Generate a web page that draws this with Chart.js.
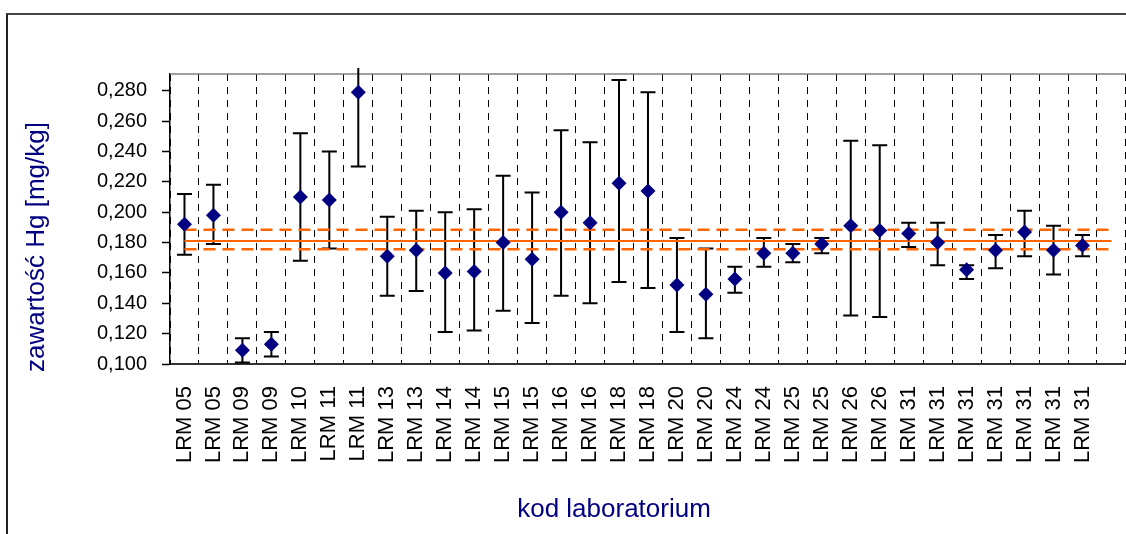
<!DOCTYPE html>
<html>
<head>
<meta charset="utf-8">
<script src="https://cdn.jsdelivr.net/npm/chart.js@4.4.1/dist/chart.umd.min.js"></script>
<style>
  html, body { margin: 0; padding: 0; background: #fff; overflow: hidden; }
  #wrap { position: relative; width: 1126px; height: 534px; overflow: hidden; }
  #frame { position: absolute; left: 6px; top: 13px; width: 1300px; height: 700px;
           border-left: 2px solid #222; border-top: 2px solid #444; }
  #chart { position: absolute; left: 0; top: 0; }
</style>
</head>
<body>
<div id="wrap">
  <div id="frame"></div>
  <canvas id="chart" width="1160" height="534"></canvas>
</div>
<script>
// lab codes (last slot is an empty category, as in the original sheet)
const LABELS = [
  "LRM 05", "LRM 05", "LRM 09", "LRM 09", "LRM 10", "LRM 11", "LRM 11",
  "LRM 13", "LRM 13", "LRM 14", "LRM 14", "LRM 15", "LRM 15", "LRM 16",
  "LRM 16", "LRM 18", "LRM 18", "LRM 20", "LRM 20", "LRM 24", "LRM 24",
  "LRM 25", "LRM 25", "LRM 26", "LRM 26", "LRM 31", "LRM 31", "LRM 31",
  "LRM 31", "LRM 31", "LRM 31", "LRM 31", ""
];

// Hg content [mg/kg]
const VALUES = [
  0.192, 0.198, 0.109, 0.113, 0.210, 0.208, 0.279, 0.171, 0.175, 0.160, 0.161,
  0.180, 0.169, 0.200, 0.193, 0.219, 0.214, 0.152, 0.146, 0.156, 0.173, 0.173,
  0.179, 0.191, 0.188, 0.186, 0.180, 0.162, 0.175, 0.187, 0.175, 0.178
];
const UPPER = [
  0.212, 0.218, 0.117, 0.121, 0.252, 0.240, 0.327, 0.197, 0.201, 0.200, 0.202,
  0.224, 0.213, 0.254, 0.246, 0.287, 0.279, 0.183, 0.176, 0.164, 0.183, 0.179,
  0.183, 0.247, 0.244, 0.193, 0.193, 0.165, 0.185, 0.201, 0.191, 0.185
];
const LOWER = [
  0.172, 0.179, 0.101, 0.105, 0.168, 0.176, 0.230, 0.145, 0.148, 0.121, 0.122,
  0.135, 0.127, 0.145, 0.140, 0.154, 0.150, 0.121, 0.117, 0.147, 0.164, 0.167,
  0.173, 0.132, 0.131, 0.177, 0.165, 0.156, 0.163, 0.171, 0.159, 0.171
];

// reference value and its uncertainty band
const REF_VALUE = 0.181;
const REF_HIGH = 0.1885;
const REF_LOW = 0.1755;

const Y_MIN = 0.100;
const Y_MAX = 0.291;
const Y_TICKS = [0.100, 0.120, 0.140, 0.160, 0.180, 0.200, 0.220, 0.240, 0.260, 0.280];

const Y_TITLE = "zawartość Hg [mg/kg]";
const X_TITLE = "kod laboratorium";

const NAVY = "#000080";
const ORANGE = "#ff6600";
const FONT = "'Liberation Sans', Arial, sans-serif";

function refLine(value) {
  // from the first category to the last (empty) one
  return [
    { x: LABELS[0], y: value },
    { x: LABELS[LABELS.length - 1], y: value },
  ];
}

const plotFrame = {
  id: "plotFrame",
  beforeDatasetsDraw(chart) {
    const { ctx, chartArea } = chart;
    ctx.save();
    ctx.strokeStyle = "#808080";
    ctx.lineWidth = 1.5;
    ctx.beginPath();
    ctx.moveTo(chartArea.left, chartArea.top);
    ctx.lineTo(chartArea.right, chartArea.top);
    ctx.stroke();
    ctx.restore();
  },
};

const errorBars = {
  id: "errorBars",
  beforeDatasetsDraw(chart) {
    const { ctx, chartArea, scales } = chart;
    const x = scales.x, y = scales.y;
    ctx.save();
    ctx.beginPath();
    ctx.rect(chartArea.left, chartArea.top - 6, chartArea.width, chartArea.height + 6);
    ctx.clip();
    ctx.strokeStyle = "#000";
    ctx.lineWidth = 2;
    const cap = 7.5;
    VALUES.forEach((v, i) => {
      const px = x.getPixelForValue(i);
      const top = y.getPixelForValue(UPPER[i]);
      const bot = y.getPixelForValue(LOWER[i]);
      ctx.beginPath();
      ctx.moveTo(px, top);
      ctx.lineTo(px, bot);
      ctx.moveTo(px - cap, top);
      ctx.lineTo(px + cap, top);
      ctx.moveTo(px - cap, bot);
      ctx.lineTo(px + cap, bot);
      ctx.stroke();
    });
    ctx.restore();
  },
};

const axisTitles = {
  id: "axisTitles",
  afterDraw(chart) {
    const { ctx, chartArea } = chart;
    ctx.save();
    ctx.fillStyle = NAVY;
    ctx.font = "26px " + FONT;
    ctx.textAlign = "center";
    ctx.textBaseline = "middle";
    ctx.translate(37, chartArea.top + 173);
    ctx.rotate(-Math.PI / 2);
    ctx.fillText(Y_TITLE, 0, 0);
    ctx.restore();

    ctx.save();
    ctx.fillStyle = NAVY;
    ctx.font = "26px " + FONT;
    ctx.textAlign = "center";
    ctx.textBaseline = "middle";
    ctx.fillText(X_TITLE, chartArea.left + 444, chartArea.bottom + 146);
    ctx.restore();
  },
};

new Chart(document.getElementById("chart"), {
  type: "line",
  data: {
    labels: LABELS,
    datasets: [
      {
        label: "wynik",
        data: VALUES,
        showLine: false,
        pointStyle: "rectRot",
        pointRadius: 7.5,
        pointBackgroundColor: NAVY,
        pointBorderColor: NAVY,
        pointBorderWidth: 0,
        order: 0,
      },
      {
        label: "wartość odniesienia",
        data: refLine(REF_VALUE),
        borderColor: ORANGE,
        borderWidth: 2,
        pointRadius: 0,
        order: 1,
      },
      {
        label: "górna granica",
        data: refLine(REF_HIGH),
        borderColor: ORANGE,
        borderWidth: 2.5,
        borderDash: [12, 7],
        pointRadius: 0,
        order: 2,
      },
      {
        label: "dolna granica",
        data: refLine(REF_LOW),
        borderColor: ORANGE,
        borderWidth: 2.5,
        borderDash: [12, 7],
        pointRadius: 0,
        order: 3,
      },
    ],
  },
  options: {
    responsive: false,
    animation: false,
    layout: { padding: { left: 90, top: 74, right: 9, bottom: 0 } },
    plugins: {
      legend: { display: false },
      tooltip: { enabled: false },
    },
    scales: {
      x: {
        type: "category",
        offset: true,
        afterFit: (scale) => { scale.height = 170; },
        grid: {
          color: "#000",
          lineWidth: 1,
          drawTicks: false,
          offset: true,
        },
        border: { display: true, color: "#333", width: 2, dash: [7, 6] },
        ticks: {
          autoSkip: false,
          minRotation: 90,
          maxRotation: 90,
          padding: 22,
          color: "#000",
          font: { family: FONT, size: 22 },
        },
      },
      y: {
        min: Y_MIN,
        max: Y_MAX,
        afterFit: (scale) => { scale.width = 80; },
        afterBuildTicks: (scale) => {
          scale.ticks = Y_TICKS.map((v) => ({ value: v }));
        },
        grid: {
          drawOnChartArea: false,
          drawTicks: true,
          tickLength: 8,
          tickWidth: 1.5,
          tickColor: "#000",
        },
        border: { display: true, color: "#000", width: 1.5 },
        ticks: {
          padding: 15,
          color: "#000",
          font: { family: FONT, size: 20 },
          callback: (value) => value.toFixed(3).replace(".", ","),
        },
      },
    },
  },
  plugins: [plotFrame, errorBars, axisTitles],
});
</script>
</body>
</html>
